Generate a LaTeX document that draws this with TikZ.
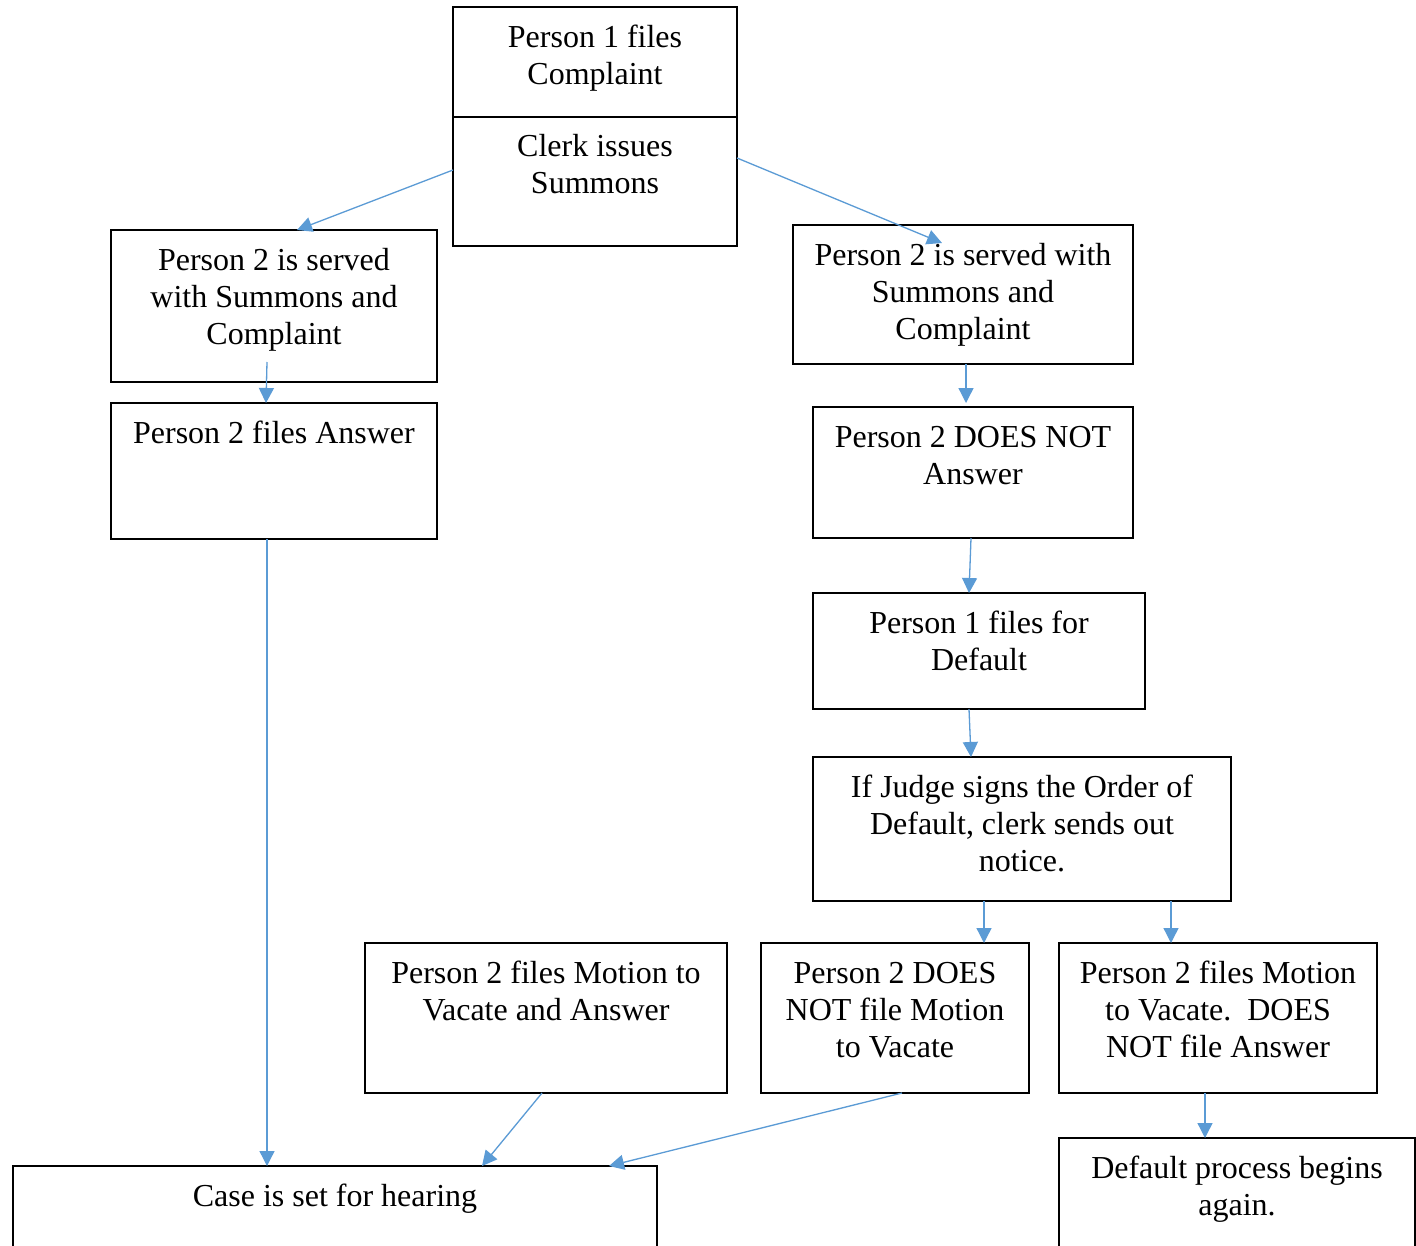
\documentclass[tikz,border=0pt]{standalone}
\usepackage{fontspec}
\setmainfont{Liberation Serif}
\usetikzlibrary{calc,arrows.meta}
\definecolor{arrowblue}{HTML}{5B9BD5}
\newcommand{\fl}{\rule{0pt}{30pt}}
\begin{document}
\begin{tikzpicture}[x=1pt,y=-1pt,
  box/.style={draw=black, line width=1.8pt, anchor=north west, inner sep=0pt, outer sep=0pt},
  lbl/.style={anchor=north, inner sep=0pt, align=center, font=\fontsize{32}{37}\selectfont},
  conn/.style={draw=arrowblue, line width=1.3pt, -{Triangle[length=15pt,width=15pt]}}]
\useasboundingbox (0,0) rectangle (1416,1245);
\clip (0,0) rectangle (1416,1245);
\fill[white] (0,0) rectangle (1416,1245);
% boxes
\node[box, minimum width=284pt, minimum height=239pt] (top) at (453,7) {};
\draw[line width=1.8pt] ($(top.north west)+(0,110)$) -- ($(top.north east)+(0,110)$);
\node[box, minimum width=326pt, minimum height=152pt] (A) at (111,230) {};
\node[box, minimum width=326pt, minimum height=136pt] (B) at (111,403) {};
\node[box, minimum width=340pt, minimum height=139pt] (C) at (793,225) {};
\node[box, minimum width=320pt, minimum height=131pt] (D) at (813,407) {};
\node[box, minimum width=332pt, minimum height=116pt] (E) at (813,593) {};
\node[box, minimum width=418pt, minimum height=144pt] (F) at (813,757) {};
\node[box, minimum width=362pt, minimum height=150pt] (G) at (365,943) {};
\node[box, minimum width=268pt, minimum height=150pt] (H) at (761,943) {};
\node[box, minimum width=318pt, minimum height=150pt] (I) at (1059,943) {};
\node[box, minimum width=644pt, minimum height=140pt] (J) at (13,1166) {};
\node[box, minimum width=356pt, minimum height=150pt] (K) at (1059,1138) {};
% labels
\node[lbl] (tTop1) at ($(top.north)+(0,10)$) {\fl Person 1 files\\Complaint};
\node[lbl] (tTop2) at ($(top.north)+(0,119)$) {\fl Clerk issues\\Summons};
\node[lbl] (tA) at ($(A.north)+(0,10)$) {\fl Person 2 is served\\with Summons and\\Complaint};
\node[lbl] (tB) at ($(B.north)+(0,10)$) {\fl Person 2 files Answer};
\node[lbl] (tC) at ($(C.north)+(0,10)$) {\fl Person 2 is served with\\Summons and\\Complaint};
\node[lbl] (tD) at ($(D.north)+(0,10)$) {\fl Person 2 DOES NOT\\Answer};
\node[lbl] (tE) at ($(E.north)+(0,10)$) {\fl Person 1 files for\\Default};
\node[lbl] (tF) at ($(F.north)+(0,10)$) {\fl If Judge signs the Order of\\Default, clerk sends out\\notice.};
\node[lbl] (tG) at ($(G.north)+(0,10)$) {\fl Person 2 files Motion to\\Vacate and Answer};
\node[lbl] (tH) at ($(H.north)+(0,10)$) {\fl Person 2 DOES\\NOT file Motion\\to Vacate};
\node[lbl] (tI) at ($(I.north)+(0,10)$) {\fl Person 2 files Motion\\to Vacate.\ \ DOES\\NOT file Answer};
\node[lbl] (tJ) at ($(J.north)+(0,10)$) {\fl Case is set for hearing};
\node[lbl] (tK) at ($(K.north)+(0,10)$) {\fl Default process begins\\again.};
% connectors
\draw[conn] ($(top.north west)+(0,163)$) -- ($(A.north west)+(186,0)$);
\draw[conn] ($(top.north east)+(0,151)$) -- ($(C.north west)+(149,18)$);
\draw[conn] ($(A.north west)+(156,132)$) -- ($(B.north west)+(155,0)$);
\draw[conn] ($(C.south west)+(173,0)$) -- ($(D.north west)+(153,-4)$);
\draw[conn] ($(D.south west)+(158,0)$) -- ($(E.north west)+(156,0)$);
\draw[conn] ($(E.south west)+(156,0)$) -- ($(F.north west)+(158,0)$);
\draw[conn] ($(F.south west)+(171,0)$) -- ($(H.north west)+(223,0)$);
\draw[conn] ($(F.south west)+(358,0)$) -- ($(I.north west)+(112,0)$);
\draw[conn] ($(I.south west)+(146,0)$) -- ($(K.north west)+(146,0)$);
\draw[conn] ($(B.south west)+(156,0)$) -- ($(J.north west)+(254,0)$);
\draw[conn] ($(G.south west)+(177,0)$) -- ($(J.north west)+(469,0)$);
\draw[conn] ($(H.south west)+(141,0)$) -- ($(J.north west)+(596,0)$);
\end{tikzpicture}
\end{document}
